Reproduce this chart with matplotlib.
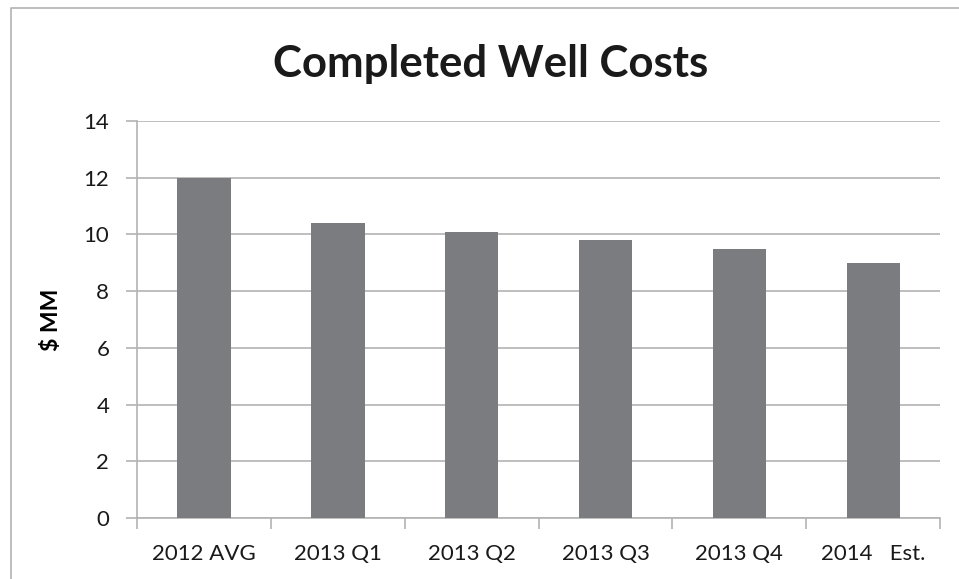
import matplotlib.pyplot as plt
from matplotlib.lines import Line2D

# chart data
categories = ['2012 AVG', '2013 Q1', '2013 Q2', '2013 Q3', '2013 Q4', '2014   Est.']
costs = [12.0, 10.4, 10.1, 9.8, 9.5, 9.0]
y_ticks = [0, 2, 4, 6, 8, 10, 12, 14]

plt.rcParams['font.family'] = ['Lato', 'DejaVu Sans']

fig = plt.figure(figsize=(9.59, 5.79), dpi=100)
ax = fig.add_axes([0.1429, 0.1054, 0.8375, 0.6856])

x = list(range(len(categories)))
ax.bar(x, costs, width=0.4, color='#7b7c80', zorder=3)

ax.set_xlim(-0.5, len(categories) - 0.5)
ax.set_ylim(0, 14)
ax.set_yticks(y_ticks)
ax.set_xticks(x)
ax.set_xticklabels(categories)
ax.set_xticks([i - 0.5 for i in range(len(categories) + 1)], minor=True)

ax.grid(axis='y', color='#b3b3b3', linewidth=1.2, zorder=0)
for s in ['top', 'right']:
    ax.spines[s].set_visible(False)
ax.spines['left'].set_color('#b3b3b3')
ax.spines['bottom'].set_color('#b3b3b3')
ax.spines['left'].set_linewidth(1.2)
ax.spines['bottom'].set_linewidth(1.2)

ax.tick_params(axis='y', length=8, color='#b3b3b3', width=1.2, labelsize=16, labelcolor='#1a1a1a', pad=12)
ax.tick_params(axis='x', which='major', length=0, labelsize=16, labelcolor='#1a1a1a', pad=19)
ax.tick_params(axis='x', which='minor', length=8, color='#b3b3b3', width=1.2)

ax.set_ylabel('$ MM', fontsize=16.5, fontweight='bold')
ax.yaxis.set_label_coords(-0.093, 0.5)
fig.text(0.512, 0.8895, 'Completed Well Costs', ha='center', va='center',
         fontsize=31.5, fontweight='bold', color='#1a1a1a')

# outer chart frame (left and top edges)
fig.add_artist(Line2D([11 / 959, 11 / 959, 1.0], [0.0, 1 - 8 / 579, 1 - 8 / 579],
                      transform=fig.transFigure, color='#b3b3b3', linewidth=1.2))

fig.savefig('out.png', dpi=100)
